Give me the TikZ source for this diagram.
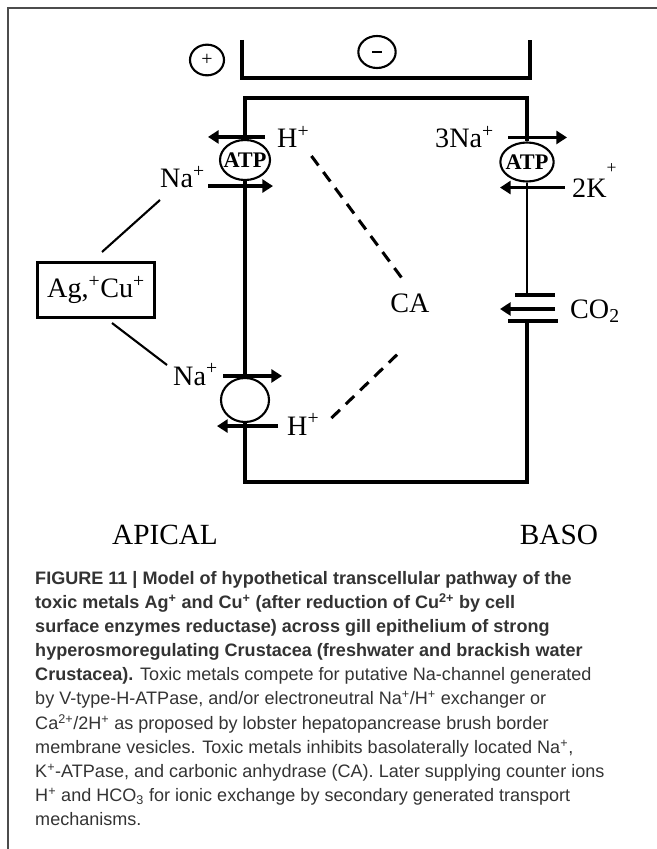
\documentclass[tikz,border=0pt]{standalone}
\usepackage{fontspec}
\setmainfont{Liberation Serif}
\newfontfamily\capsans{Liberation Sans}
\usetikzlibrary{arrows.meta,shapes.geometric,calc}
\definecolor{framegray}{gray}{0.3}
\definecolor{captiongray}{gray}{0.2}

\tikzset{
  ion/.style={inner sep=0pt, font=\fontsize{24}{26}\selectfont},
  pump/.style={draw, ellipse, line width=1.8pt, inner sep=0pt},
  pumptext/.style={inner sep=0pt, font=\fontsize{19}{19}\selectfont\bfseries},
  flux/.style={line width=3pt, -{Triangle[length=9pt,width=11pt]}},
  apical/.style={line width=3.6pt},
  baso/.style={line width=2.2pt},
  cellline/.style={line width=2.6pt},
  metalline/.style={line width=1.8pt},
  cadash/.style={line width=2.6pt, dash pattern=on 10pt off 7pt},
}

\begin{document}
\begin{tikzpicture}[x=0.03cm,y=-0.03cm]
\useasboundingbox (0,0) rectangle (657,849);
% page frame
\draw[framegray,line width=1.5pt] (8,849) -- (8,8) -- (657,8);

% potential across the epithelium
\node[pump, minimum width=1.02cm, minimum height=0.92cm, font=\fontsize{17}{17}\selectfont] (plus) at (207,60) {+};
\node[pump, minimum width=1.12cm, minimum height=0.96cm] (minus) at (377,52) {\rule{8pt}{1.8pt}};
\draw[cellline] (242,40) -- (242,78) -- (530,78) -- (530,40);

% cell
\coordinate (tl) at (245,98);
\coordinate (tr) at (527,98);
\coordinate (bl) at (245,482);
\coordinate (br) at (527,482);
\coordinate (chT) at (527,295);
\coordinate (chB) at (527,321);

\node[pump, minimum width=1.5cm, minimum height=1.2cm] (atpA) at (245,160) {};
\node[pumptext] (atpAtxt) at (atpA) {ATP};
\node[pump, minimum width=1.44cm, minimum height=1.32cm] (exA) at (245,400) {};
\node[pump, minimum width=1.6cm, minimum height=1.17cm] (atpB) at (527,162) {};
\node[pumptext] (atpBtxt) at (atpB) {ATP};

\draw[cellline] (atpA.north) -- (tl) -- (tr) -- (atpB.north);
\draw[cellline] (exA.south) -- (bl) -- (br) -- (chB);
\draw[apical] (tl) -- (atpA.north);
\draw[apical] (atpA.south) -- (exA.north);
\draw[apical] (exA.south) -- (bl);
\draw[baso] (atpB.south) -- (chT);

% CO2 channel
\draw[cellline] (chT) ++(-12,0) -- ++(40,0);
\draw[cellline] (chB) ++(-19,0) -- ++(50,0);
\draw[flux] (chT) ++(28,14) -- ++(-55,0);

% ion fluxes
\draw[flux] (atpA.north) ++(20,-2) -- ++(-57,0);
\draw[flux] (atpA.south) ++(-37,5) -- ++(65,0);
\draw[flux] (exA.north) ++(-22,-1) -- ++(59,0);
\draw[flux] (exA.south) ++(33,3) -- ++(-61,0);
\draw[flux] (atpB.north) ++(-19,-4) -- ++(59,0);
\draw[flux] (atpB.south) ++(38,5) -- ++(-65,0);

% labels
\node[ion, anchor=base west] (hA) at (277,148) {H\textsuperscript{+}};
\node[ion, anchor=base west] (naA) at (160,188) {Na\textsuperscript{+}};
\node[ion, anchor=base west] (naB) at (173,385) {Na\textsuperscript{+}};
\node[ion, anchor=base west] (hB) at (287,435) {H\textsuperscript{+}};
\node[ion, anchor=base west] (na3) at (435,148) {3Na\textsuperscript{+}};
\node[ion, anchor=base west] (k2) at (572,197) {2K\raisebox{0.85em}{\fontsize{15}{15}\selectfont+}};
\node[ion, anchor=base west] (co2) at (570,318) {CO\textsubscript{2}};
\node[ion] (ca) at (410,303) {CA};
\node[ion, draw, line width=2.6pt, minimum width=3.5cm, minimum height=1.65cm] (metal) at (96,290) {Ag,\textsuperscript{+}Cu\textsuperscript{+}};

\draw[metalline] ($(metal.north)+(6,-9)$) -- ($(naA.base west)+(0,12)$);
\draw[metalline] ($(metal.south)+(16,4)$) -- ($(naB.base west)+(-6,-20)$);
\draw[cadash] ($(hA.base east)+(2,8)$) -- ($(ca.north)+(-5,-11)$);
\draw[cadash] ($(hB.base east)+(12,-17)$) -- ($(ca.south)+(-13,42)$);

\node[ion, font=\fontsize{25}{27}\selectfont] (apicalside) at (165,535) {APICAL};
\node[ion, font=\fontsize{25}{27}\selectfont] (basoside) at (559,535) {BASO};

% caption
\node[anchor=north west, inner sep=0pt, align=left, text=captiongray,
  font=\capsans\fontsize{15.4}{20.6}\selectfont] (caption) at (35,571) {%
\textbf{FIGURE 11 | Model of hypothetical transcellular pathway of the}\\
\textbf{toxic metals Ag\textsuperscript{+} and Cu\textsuperscript{+} (after reduction of Cu\textsuperscript{2+} by cell}\\
\textbf{surface enzymes reductase) across gill epithelium of strong}\\
\textbf{hyperosmoregulating Crustacea (freshwater and brackish water}\\
\textbf{Crustacea).} Toxic metals compete for putative Na-channel generated\\
by V-type-H-ATPase, and/or electroneutral Na\textsuperscript{+}/H\textsuperscript{+} exchanger or\\
Ca\textsuperscript{2+}/2H\textsuperscript{+} as proposed by lobster hepatopancrease brush border\\
membrane vesicles. Toxic metals inhibits basolaterally located Na\textsuperscript{+},\\
K\textsuperscript{+}-ATPase, and carbonic anhydrase (CA). Later supplying counter ions\\
H\textsuperscript{+} and HCO\textsubscript{3} for ionic exchange by secondary generated transport\\
mechanisms.};
\end{tikzpicture}
\end{document}
